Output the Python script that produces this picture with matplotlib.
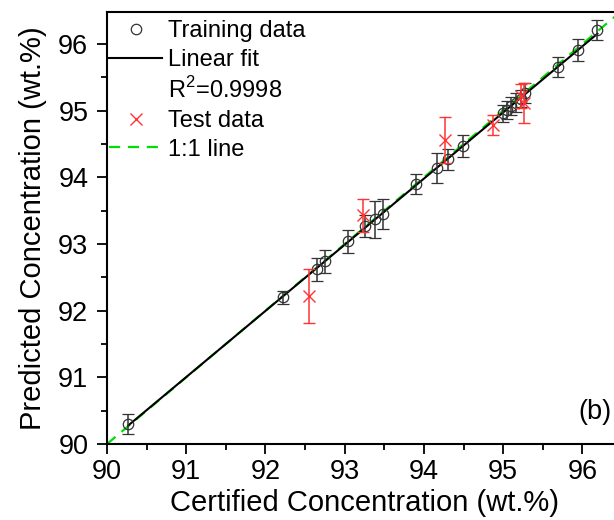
import numpy as np
import matplotlib
matplotlib.use("Agg")
import matplotlib.pyplot as plt
from matplotlib.lines import Line2D
from matplotlib.ticker import MultipleLocator

plt.rcParams['font.family'] = ['Liberation Sans', 'DejaVu Sans']
plt.rcParams['mathtext.fontset'] = 'custom'
plt.rcParams['mathtext.rm'] = 'Liberation Sans'

# Training data (certified, predicted, error)
train_x = [90.27, 92.22, 92.65, 92.75, 93.04, 93.26, 93.38, 93.48, 93.90,
           94.17, 94.31, 94.49, 95.00, 95.05, 95.10, 95.16, 95.22, 95.28,
           95.69, 95.95, 96.19]
train_y = [90.30, 92.20, 92.62, 92.74, 93.04, 93.27, 93.37, 93.45, 93.90,
           94.14, 94.27, 94.47, 94.96, 95.01, 95.07, 95.12, 95.18, 95.26,
           95.65, 95.91, 96.21]
train_err = [0.15, 0.10, 0.17, 0.17, 0.17, 0.16, 0.28, 0.23, 0.15,
             0.22, 0.16, 0.16, 0.13, 0.14, 0.13, 0.14, 0.13, 0.15,
             0.15, 0.16, 0.15]

# Test data
test_x = [92.55, 93.23, 94.27, 94.87, 95.23, 95.26]
test_y = [92.22, 93.43, 94.56, 94.79, 95.22, 95.11]
test_err = [0.40, 0.25, 0.35, 0.15, 0.18, 0.30]

r2_label = "R$^2$=0.9998"
xlabel = "Certified Concentration (wt.%)"
ylabel = "Predicted Concentration (wt.%)"
ticks = [90, 91, 92, 93, 94, 95, 96]

fs_tick = 19.5
fs_leg = 17
fs_lab = 21
fig = plt.figure(figsize=(6.14, 5.2), dpi=100)
ax = fig.add_axes([107/614, 76/520, 515/614, 432/520])

# 1:1 line
ax.plot([90, 96.5], [90, 96.5], color='#00e000', lw=1.6,
        linestyle=(0, (5, 3.5)), zorder=2)

# Linear fit
coef = np.polyfit(train_x, train_y, 1)
fx = np.array([min(train_x), max(train_x)])
ax.plot(fx, np.polyval(coef, fx), color='black', lw=1.5, zorder=3)

# Training data
ax.errorbar(train_x, train_y, yerr=train_err, fmt='o', mfc='none',
            mec='#333333', ms=7.5, mew=0.9, ecolor='#333333', elinewidth=1.1,
            capsize=4.5, capthick=1.1, zorder=4)

# Test data
ax.errorbar(test_x, test_y, yerr=test_err, fmt='x', color='#ff3333',
            ms=8, mew=1.0, ecolor='#ff3333', elinewidth=1.1,
            capsize=4.5, capthick=1.1, zorder=5)

ax.set_xlim(90, 96.5)
ax.set_ylim(90, 96.48)
ax.set_xticks(ticks)
ax.set_yticks(ticks)
ax.xaxis.set_minor_locator(MultipleLocator(0.5))
ax.yaxis.set_minor_locator(MultipleLocator(0.5))
ax.tick_params(which='major', direction='out', length=7, width=1.3,
               labelsize=fs_tick, pad=4)
ax.tick_params(axis='y', which='major', pad=6.5)
ax.tick_params(which='minor', direction='out', length=4, width=1.3)
for s in ax.spines.values():
    s.set_linewidth(1.5)

ax.set_xlabel(xlabel, fontsize=fs_lab, labelpad=3)
ax.set_ylabel(ylabel, fontsize=fs_lab, labelpad=8)

handles = [
    Line2D([], [], marker='o', ls='none', mfc='none', mec='#333333', ms=7.5, mew=0.9),
    Line2D([], [], color='black', lw=1.5),
    Line2D([], [], ls='none', marker=None),
    Line2D([], [], marker='x', ls='none', color='#ff3333', ms=8, mew=1.0),
    Line2D([], [], color='#00e000', lw=1.6, linestyle=(0, (5, 3.5))),
]
labels = ["Training data", "Linear fit", r2_label, "Test data", "1:1 line"]
ax.legend(handles, labels, loc='upper left', bbox_to_anchor=(-0.012, 1),
          frameon=False, fontsize=fs_leg, borderaxespad=0, borderpad=0.35,
          handlelength=2.25, handletextpad=0.25, labelspacing=0.28)

fig.text(612/614, 1 - 412/520, "(b)", fontsize=fs_tick, ha='right', va='center')

fig.savefig("out.png", dpi=100)
